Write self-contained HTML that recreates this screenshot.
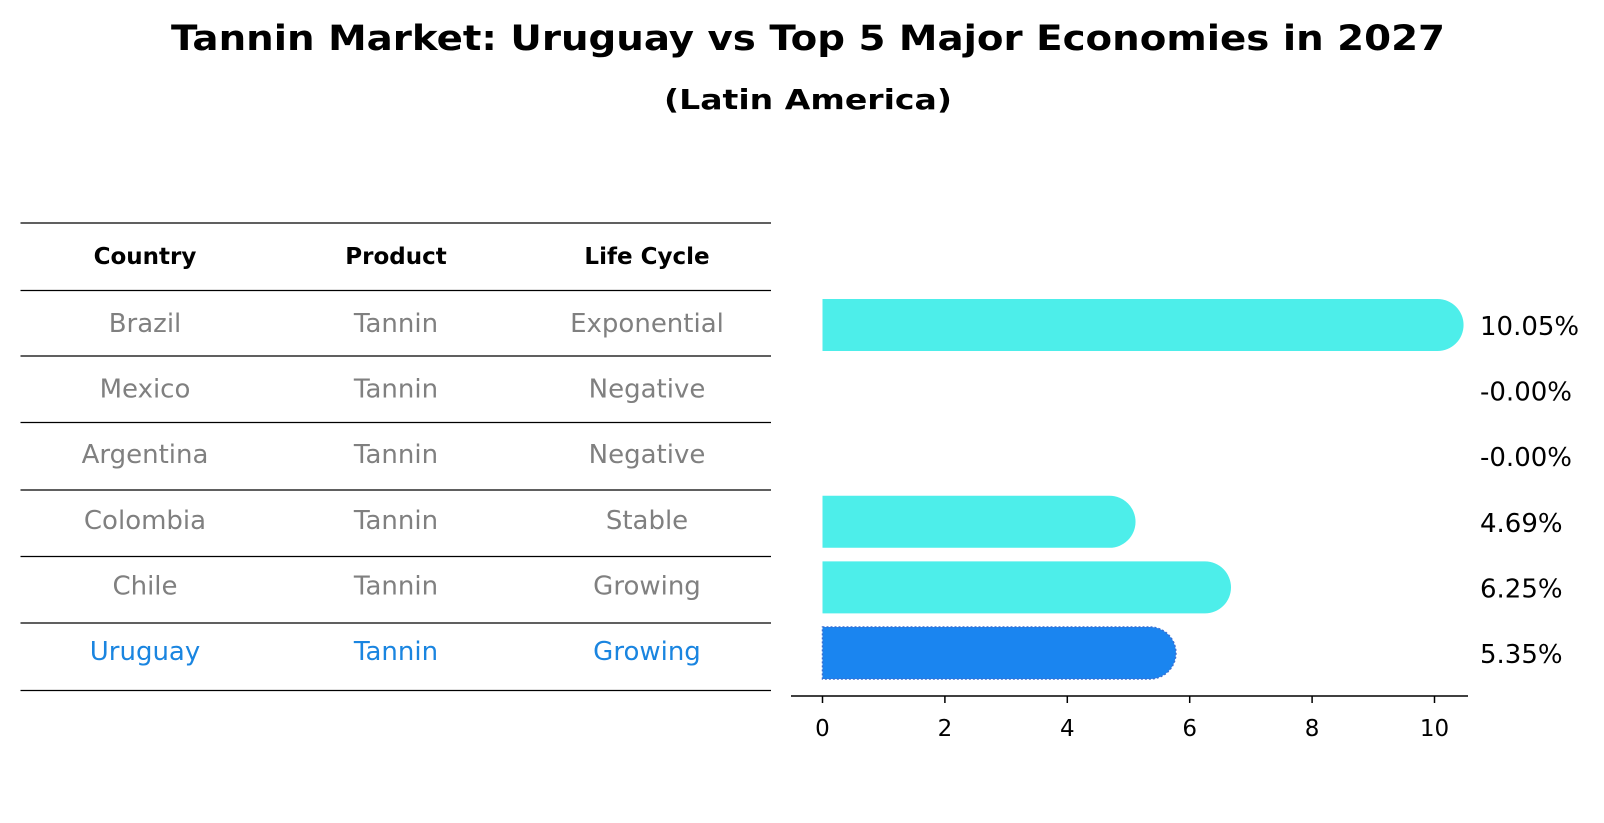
<!DOCTYPE html>
<html><head><meta charset="utf-8"><style>
html,body{margin:0;padding:0;background:#fff;}
svg{display:block;font-family:"DejaVu Sans","Liberation Sans",sans-serif;}
</style></head><body>
<svg id="chart" width="1604" height="823" viewBox="0 0 1604 823" xmlns="http://www.w3.org/2000/svg">
<text x="808" y="50" text-anchor="middle" font-size="35" font-weight="bold" textLength="1274" lengthAdjust="spacingAndGlyphs">Tannin Market: Uruguay vs Top 5 Major Economies in 2027</text>
<text x="808" y="109" text-anchor="middle" font-size="28" font-weight="bold" textLength="288" lengthAdjust="spacingAndGlyphs">(Latin America)</text>
<g id="table"></g>
<g id="bars"></g>
</svg>
<script>
const countries = ["Brazil","Mexico","Argentina","Colombia","Chile","Uruguay"];
const products = ["Tannin","Tannin","Tannin","Tannin","Tannin","Tannin"];
const lifeCycles = ["Exponential","Negative","Negative","Stable","Growing","Growing"];
const growthValues = [10.05,-0.00,-0.00,4.69,6.25,5.35];
const valueLabels = ["10.05%","-0.00%","-0.00%","4.69%","6.25%","5.35%"];
const xTicks = [0,2,4,6,8,10];

const NS="http://www.w3.org/2000/svg";
function mk(tag,attrs,parent,txt){const e=document.createElementNS(NS,tag);for(const k in attrs)e.setAttribute(k,attrs[k]);if(txt!==undefined)e.textContent=txt;parent.appendChild(e);return e;}
const x0=822.5, kx=61.2;
function xScale(v){return x0+v*kx;}
const rowTop=325, rowStep=65.6;
function yScale(i){return rowTop+i*rowStep;}

const tbl=document.getElementById('table');
const lineYs=[223,290.5,356,422.5,490,556.5,623,690.5];
lineYs.forEach((y,i)=>{const l=mk('line',{x1:20.5,x2:771,y1:y,y2:y,stroke:'#000','stroke-width':1.2},tbl);

});
const colX=[145,396,647];
["Country","Product","Life Cycle"].forEach((h,j)=>{const t=mk('text',{x:colX[j],y:264,'text-anchor':'middle','font-size':23,'font-weight':'bold'},tbl,h);

});
countries.forEach((c,i)=>{
  const col=c==="Uruguay"?"#1a85e0":"#808080";
  const y=yScale(i)+7;
  [c,products[i],lifeCycles[i]].forEach((v,j)=>{
    const t=mk('text',{x:colX[j],y:y,'text-anchor':'middle','font-size':26,fill:col},tbl,v);
    
    
  });
});

const g=document.getElementById('bars');
const bh=52, r=26;
growthValues.forEach((v,i)=>{
  const cy=yScale(i);
  const uru=countries[i]==="Uruguay";
  if(v>0){
    const xs=xScale(0), xe=xScale(v);
    const d=`M${xs},${cy-bh/2} L${xe},${cy-bh/2} A${r},${r} 0 0 1 ${xe},${cy+bh/2} L${xs},${cy+bh/2} Z`;
    const p=mk('path',{d:d,fill:uru?'#1a85f0':'#4deeea',stroke:uru?'#3a6fd0':'none','stroke-width':uru?1.5:0,'stroke-dasharray':uru?'2,2':'none'},g);
    
    
  }
  const t=mk('text',{x:1480,y:cy+10,'font-size':26},g,valueLabels[i]);
  
  
});
const ax=mk('line',{x1:791,x2:1468,y1:696,y2:696,stroke:'#000','stroke-width':1.5},g);


xTicks.forEach(v=>{
  const tk=mk('line',{x1:xScale(v),x2:xScale(v),y1:696,y2:703,stroke:'#000','stroke-width':1.5},g);
  
  
  const tl=mk('text',{x:xScale(v),y:736,'text-anchor':'middle','font-size':23},g,String(v));
  
  
});
</script>
</body></html>
